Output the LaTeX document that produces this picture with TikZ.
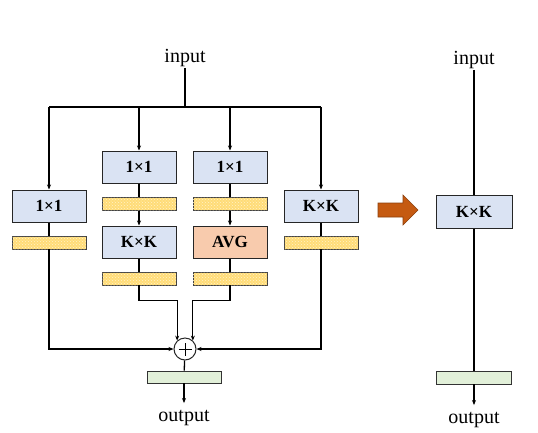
\documentclass[tikz,border=0pt]{standalone}
\usepackage{fontspec}
\setmainfont{Liberation Serif}
\usetikzlibrary{arrows.meta,patterns}
\definecolor{boxblue}{HTML}{DAE3F3}
\definecolor{boxorange}{HTML}{F8CBAD}
\definecolor{boxgreen}{HTML}{E2F0D9}
\definecolor{bnyellow}{HTML}{FFDC78}
\definecolor{bndot}{HTML}{FFF3C8}
\definecolor{bigarrow}{HTML}{C55A11}
\begin{document}
\begin{tikzpicture}[x=1pt,y=-1pt,
  blk/.style={draw=black!85, line width=1pt, fill=boxblue, minimum width=74pt, minimum height=32pt, inner sep=0pt, font=\fontsize{17}{17}\selectfont\bfseries},
  bnbar/.style={draw=black!75, line width=0.9pt, fill=bnyellow, postaction={pattern=crosshatch dots, pattern color=bndot}, minimum width=74pt, minimum height=13pt, inner sep=0pt},
  outbarst/.style={draw=black!80, line width=0.9pt, fill=boxgreen, minimum width=74pt, minimum height=12pt, inner sep=0pt},
  lbl/.style={font=\fontsize{20}{20}\selectfont, inner sep=1pt},
  ln/.style={line width=1.3pt, black},
  arr/.style={ln, -{Stealth[length=5pt,width=4pt]}}]
\useasboundingbox (0,0) rectangle (538,432);

% left block
\node[lbl] (in1) at (185,58) {input};
\coordinate (bus) at (185,107);
\node[blk] (b1a) at (49,206) {1×1};
\node[bnbar] (n1) at (49,242.5) {};
\node[blk] (b2a) at (139,167) {1×1};
\node[bnbar] (n2a) at (139,204) {};
\node[blk] (b2b) at (139,242) {K×K};
\node[bnbar] (n2b) at (139,278.5) {};
\node[blk] (b3a) at (230,167) {1×1};
\node[bnbar] (n3a) at (230,204) {};
\node[blk, fill=boxorange] (b3b) at (230,242) {AVG};
\node[bnbar] (n3b) at (230,278.5) {};
\node[blk] (b4a) at (321,206) {K×K};
\node[bnbar] (n4) at (321,242.5) {};
\node[circle, draw=black!85, line width=1pt, fill=white, minimum size=22pt, inner sep=0pt] (plus) at (185,349) {};
\draw[line width=0.9pt] ([xshift=-6.5pt]plus.center) -- ([xshift=6.5pt]plus.center)
  ([yshift=-6.5pt]plus.center) -- ([yshift=6.5pt]plus.center);
\node[outbarst] (ob1) at (184,377) {};
\node[lbl] (out1) at (184,418) {output};

\draw[ln] (in1.south) -- (bus);
\draw[ln] (b1a.north |- bus) -- (b4a.north |- bus);
\draw[arr] (b1a.north |- bus) -- (b1a.north);
\draw[arr] (b2a.north |- bus) -- (b2a.north);
\draw[arr] (b3a.north |- bus) -- (b3a.north);
\draw[arr] (b4a.north |- bus) -- (b4a.north);
\draw[ln] (b1a) -- (n1);
\draw[ln] (b4a) -- (n4);
\draw[ln] (b2a) -- (n2a);
\draw[ln] (b3a) -- (n3a);
\draw[arr] (n2a) -- (b2b);
\draw[arr] (n3a) -- (b3b);
\draw[ln] (b2b) -- (n2b);
\draw[ln] (b3b) -- (n3b);
\draw[arr] (n1.south) |- (plus.west);
\draw[arr] (n4.south) |- (plus.east);
\draw[arr] (n2b.south) -- ++(0,15) -| (plus.133);
\draw[arr] (n3b.south) -- ++(0,15) -| (plus.47);
\draw[ln] (plus) -- (ob1);
\draw[arr] (ob1.south) -- ([yshift=6pt]out1.north);

% big arrow
\draw[fill=bigarrow, draw=bigarrow!70!black, line width=0.6pt]
  (378,203) -- (403,203) -- (403,195) -- (418,210) -- (403,225) -- (403,217) -- (378,217) -- cycle;

% right block
\node[lbl] (in2) at (474,60) {input};
\node[blk, minimum width=76pt, minimum height=33pt] (b5) at (474,211.5) {K×K};
\node[outbarst, minimum width=75pt, minimum height=13pt] (ob2) at (474,377.5) {};
\node[lbl] (out2) at (474,420) {output};
\draw[ln] (in2.south) -- (b5.north);
\draw[ln] (b5.south) -- (ob2.north);
\draw[arr] (ob2.south) -- ([yshift=6pt]out2.north);
\end{tikzpicture}
\end{document}
